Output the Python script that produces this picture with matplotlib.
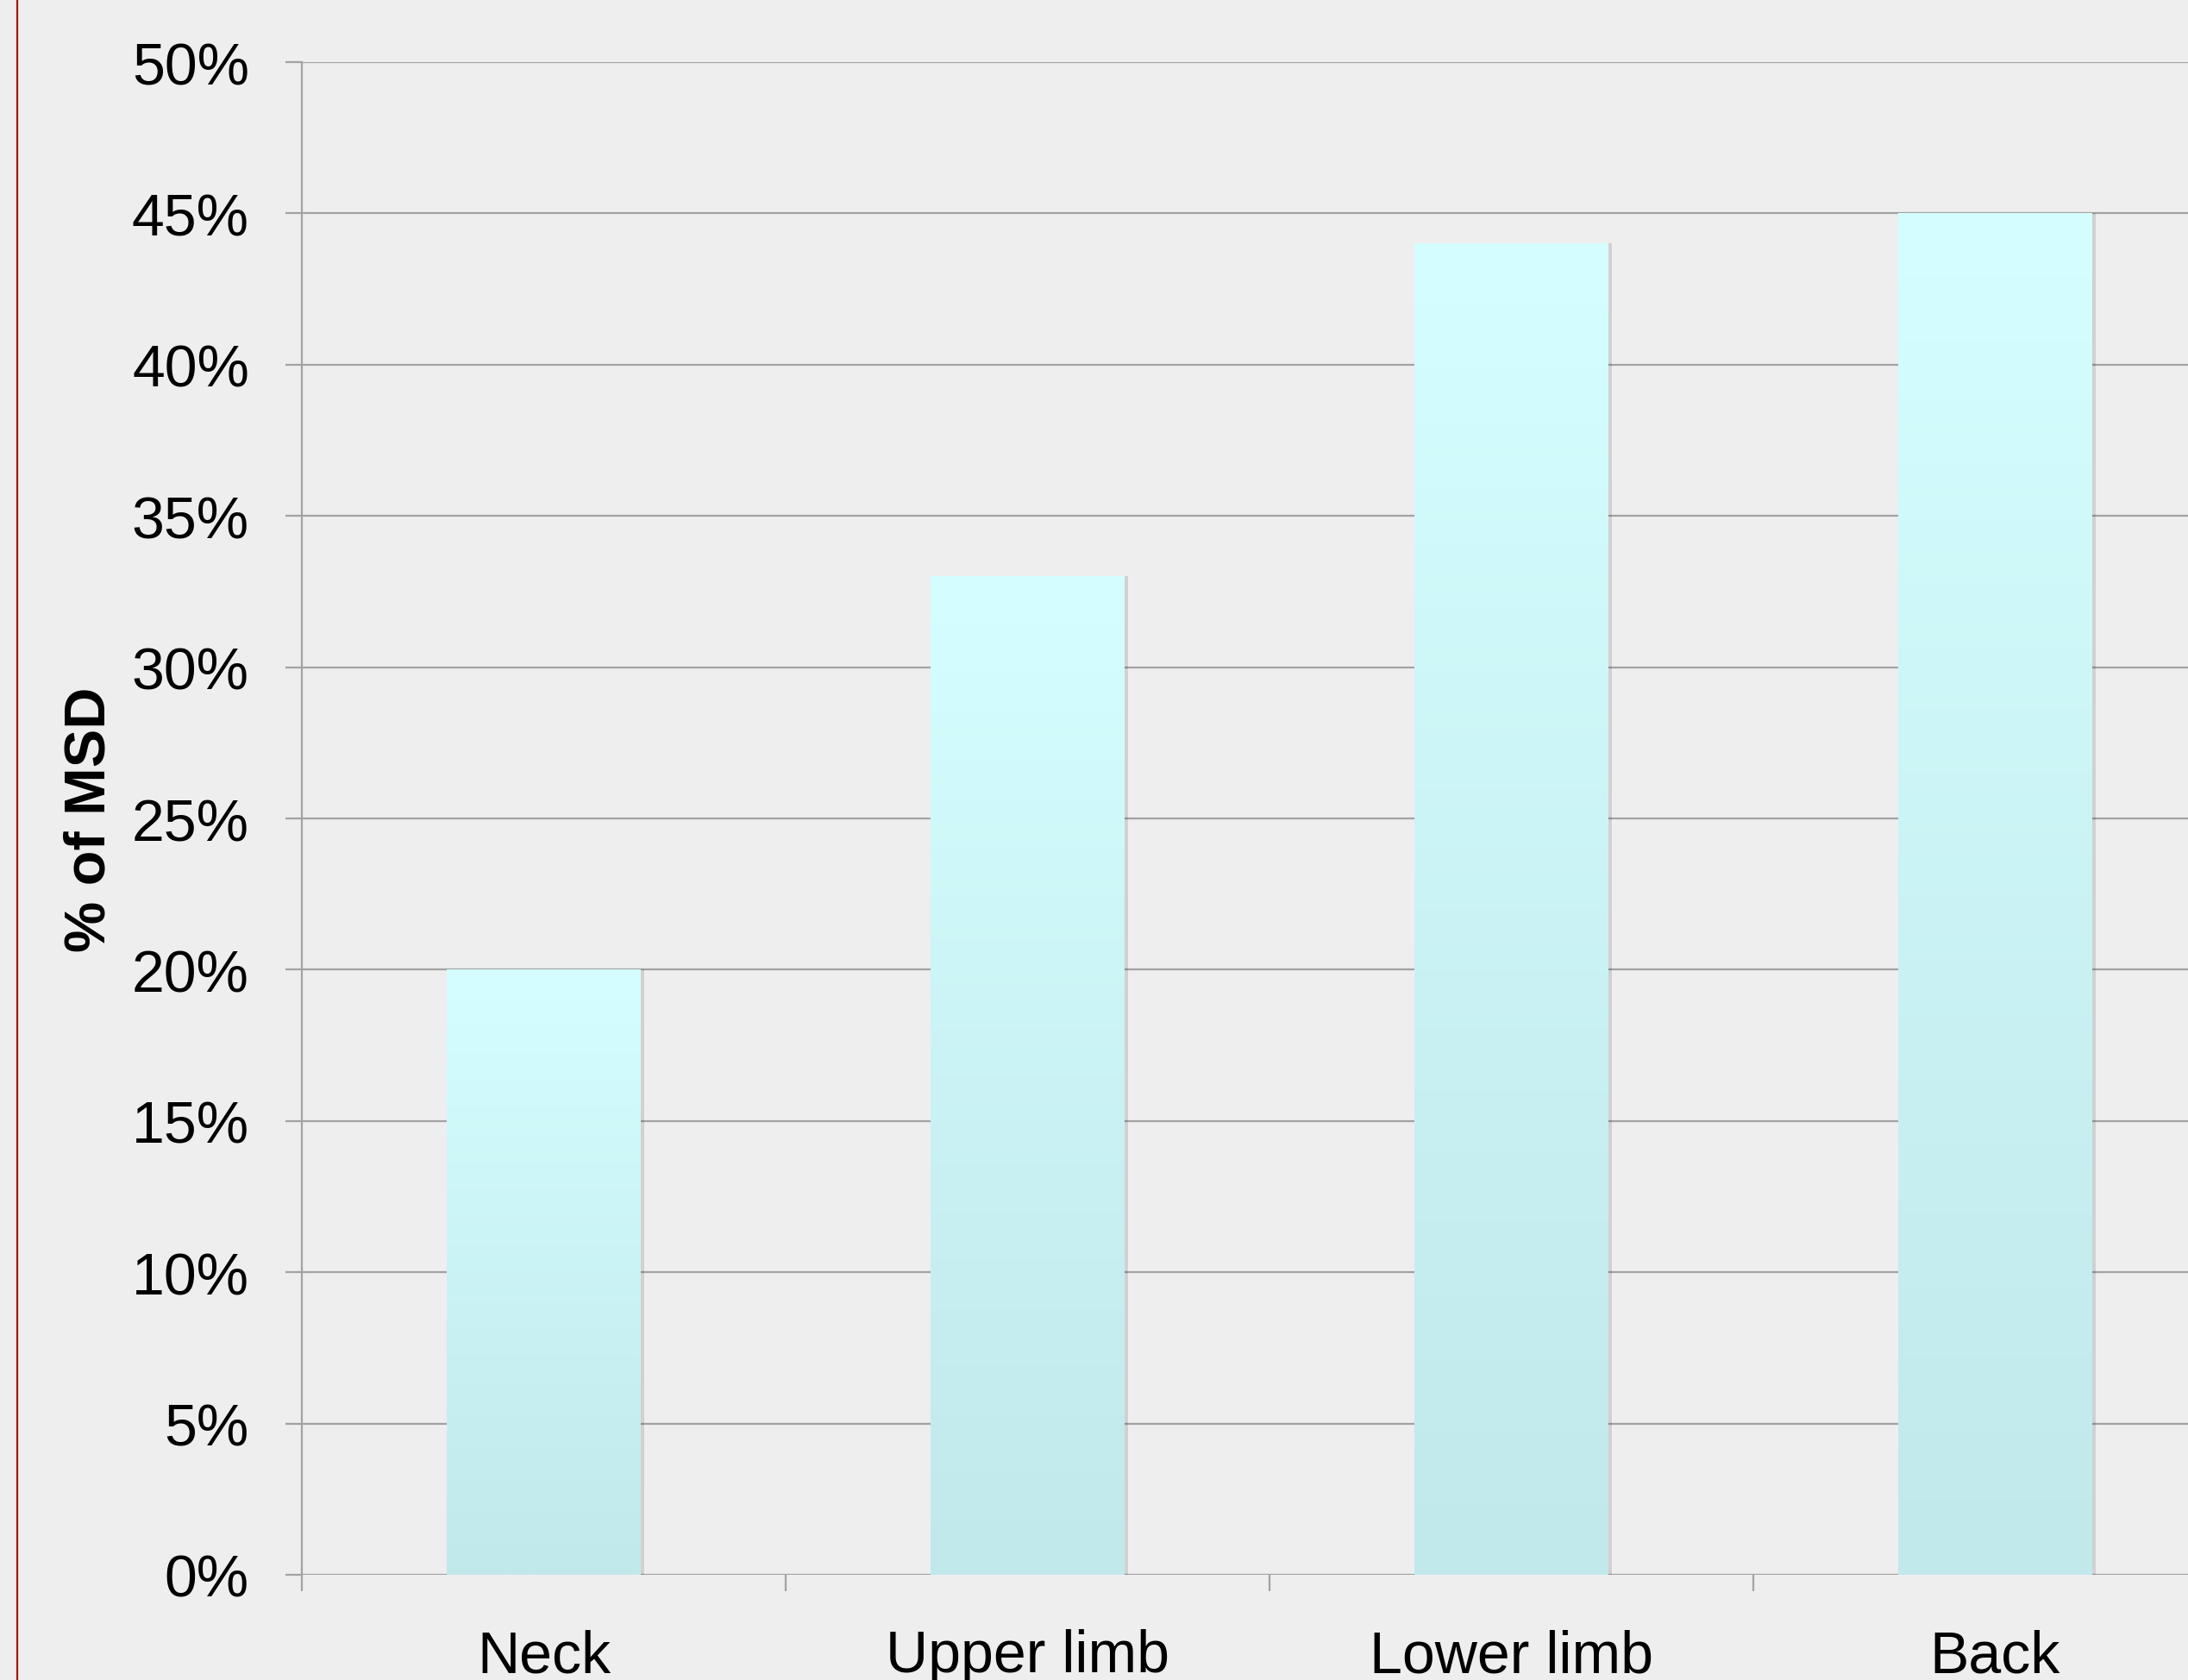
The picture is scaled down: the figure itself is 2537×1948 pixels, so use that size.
import numpy as np
import matplotlib
matplotlib.use("Agg")
import matplotlib.pyplot as plt
from matplotlib.colors import LinearSegmentedColormap
from matplotlib.lines import Line2D
from matplotlib.ticker import FuncFormatter

# Share of musculoskeletal disorders by body region
categories = ["Neck", "Upper limb", "Lower limb", "Back"]
msd_share = [20, 33, 44, 45]
y_ticks = [0, 5, 10, 15, 20, 25, 30, 35, 40, 45, 50]

plt.rcParams["font.family"] = ["Liberation Sans", "DejaVu Sans"]

W, H, DPI = 2537, 1949, 100
fig = plt.figure(figsize=(W / DPI, H / DPI), dpi=DPI, facecolor="#EEEEEE")

ax_left, ax_bottom = 350 / W, 122 / H
ax_w, ax_h = 2244 / W, 1754 / H
ax = fig.add_axes([ax_left, ax_bottom, ax_w, ax_h])
ax.set_facecolor("#EEEEEE")

x = np.arange(len(categories))
bar_w = 0.40

grid_c = "#A2A2A2"
ax.set_axisbelow(True)
ax.yaxis.grid(True, color=grid_c, linewidth=1.6)
ax.xaxis.grid(False)

# soft drop shadow on the right edge of each bar
shadow = ax.bar(x + 0.007, msd_share, width=bar_w, color="#000000", alpha=0.12,
                linewidth=0, zorder=2)

bars = ax.bar(x, msd_share, width=bar_w, color="none", linewidth=0, zorder=3)
cmap = LinearSegmentedColormap.from_list("bar", ["#C1E8EB", "#D4FEFF"])
grad = np.linspace(0, 1, 256).reshape(-1, 1)
for b in bars:
    x0, y0 = b.get_x(), b.get_y()
    w, h = b.get_width(), b.get_height()
    im = ax.imshow(grad, cmap=cmap, aspect="auto", origin="lower",
                   extent=(x0, x0 + w, y0, y0 + h), zorder=3)
    im.set_clip_path(b)

ax.set_xlim(-0.5, len(categories) - 0.5)
ax.set_ylim(0, 50)

ax.set_yticks(y_ticks)
ax.yaxis.set_major_formatter(FuncFormatter(lambda v, p: f"{v:.0f}%"))
ax.set_xticks(x)
ax.set_xticklabels(categories)
ax.set_xticks(np.arange(len(categories) + 1) - 0.5, minor=True)

ax.tick_params(axis="y", which="major", length=14, width=1.6, color=grid_c,
               labelsize=49, pad=30, labelcolor="black")
ax.tick_params(axis="x", which="major", length=0, labelsize=49, pad=45,
               labelcolor="black")
ax.tick_params(axis="x", which="minor", length=14, width=1.6, color=grid_c)

for side in ["top", "right", "bottom"]:
    ax.spines[side].set_visible(False)
ax.spines["left"].set_color(grid_c)
ax.spines["left"].set_linewidth(1.6)

fig.text(105 / W, 999 / H, "% of MSD", rotation=90, ha="center", va="center",
         fontsize=48, fontweight="bold")

fig.add_artist(Line2D([20 / W, 20 / W], [0, 1], color="#A01A10", linewidth=1.6,
                      transform=fig.transFigure))

fig.savefig("out.png", dpi=DPI, facecolor=fig.get_facecolor())
